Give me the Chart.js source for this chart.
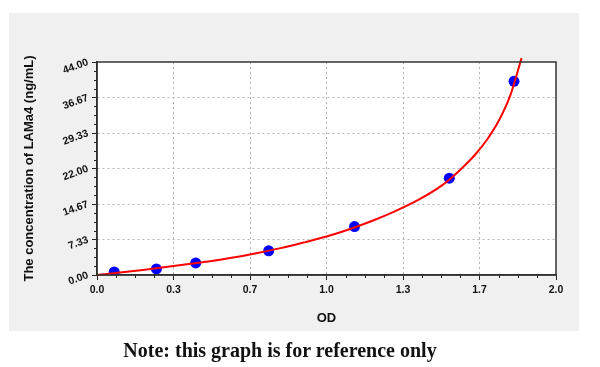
<!DOCTYPE html>
<html>
<head>
<meta charset="utf-8">
<script src="https://cdn.jsdelivr.net/npm/chart.js@4/dist/chart.umd.min.js"></script>
<style>
  body { margin: 0; background: #fff; }
  #wrap { position: relative; width: 600px; height: 367px; }
  #panel { position: absolute; left: 9px; top: 13px; width: 570px; height: 318px; background: #f0f0f0; }
  #chart { position: absolute; left: 0; top: 0; }
  #note { position: absolute; left: 0; top: 339px; width: 560px; text-align: center;
          font-family: 'Liberation Serif', serif; font-weight: bold; font-size: 20px; color: #111; }
</style>
</head>
<body>
<div id="wrap">
  <div id="panel"></div>
  <canvas id="chart" width="600" height="367"></canvas>
  <div id="note">Note: this graph is for reference only</div>
</div>
<script>
'use strict';

// standards
var odValues = [0.075, 0.259, 0.430, 0.748, 1.122, 1.535, 1.817];
var concValues = [0.625, 1.25, 2.5, 5, 10, 20, 40];

// fitted curve at even OD steps
var curveOd = [0, 0.1, 0.2, 0.3, 0.4, 0.5, 0.6, 0.7, 0.8, 0.9, 1.0, 1.1, 1.2, 1.3, 1.4, 1.5, 1.55, 1.6, 1.65, 1.7, 1.75, 1.8, 1.85];
var curveConc = [0, 0.5, 1.05, 1.63, 2.25, 2.9, 3.65, 4.55, 5.55, 6.7, 7.95, 9.45, 11.2, 13.2, 15.5, 18.4, 20.3, 22.5, 25.0, 28.0, 31.8, 37.0, 44.8];

var xTicks = [0, 1 / 3, 2 / 3, 1, 4 / 3, 5 / 3, 2];
var xTickLabels = ['0.0', '0.3', '0.7', '1.0', '1.3', '1.7', '2.0'];
var yTicks = [0, 22 / 3, 44 / 3, 22, 88 / 3, 110 / 3, 44];
var yTickLabels = ['0.00', '7.33', '14.67', '22.00', '29.33', '36.67', '44.00'];

function toPoints (xs, ys) {
  var pts = [];
  for (var i = 0; i < xs.length; i++) {
    pts.push({ x: xs[i], y: ys[i] });
  }
  return pts;
}

function gridColor (count) {
  return function (c) {
    return (c.index === 0 || c.index === count - 1) ? 'rgba(0,0,0,0)' : '#b4b4b4';
  };
}

// white plot area, frame and minor ticks
var framePlugin = {
  id: 'frame',
  beforeDraw: function (chart) {
    var a = chart.chartArea;
    var ctx = chart.ctx;
    ctx.save();
    ctx.fillStyle = '#ffffff';
    ctx.fillRect(a.left, a.top, a.right - a.left, a.bottom - a.top);
    ctx.restore();
  },
  afterDraw: function (chart) {
    var a = chart.chartArea;
    var ctx = chart.ctx;
    var xs = chart.scales.x;
    var ys = chart.scales.y;
    ctx.save();
    ctx.strokeStyle = '#333333';
    ctx.lineWidth = 1.5;
    ctx.strokeRect(a.left, a.top, a.right - a.left, a.bottom - a.top);
    ctx.strokeStyle = '#222222';
    ctx.lineWidth = 1;
    ctx.beginPath();
    for (var i = 0; i < xTicks.length - 1; i++) {
      var step = (xTicks[i + 1] - xTicks[i]) / 4;
      for (var k = 1; k < 4; k++) {
        var px = Math.round(xs.getPixelForValue(xTicks[i] + step * k)) + 0.5;
        ctx.moveTo(px, a.bottom);
        ctx.lineTo(px, a.bottom + 3);
      }
    }
    for (var j = 0; j < yTicks.length - 1; j++) {
      var ystep = (yTicks[j + 1] - yTicks[j]) / 4;
      for (var m = 1; m < 4; m++) {
        var py = Math.round(ys.getPixelForValue(yTicks[j] + ystep * m)) + 0.5;
        ctx.moveTo(a.left, py);
        ctx.lineTo(a.left - 3, py);
      }
    }
    ctx.stroke();
    ctx.restore();
  }
};

var ctx = document.getElementById('chart').getContext('2d');
var chart = new Chart(ctx, {
  type: 'scatter',
  data: {
    datasets: [{
      label: 'curve',
      type: 'line',
      order: 0,
      data: toPoints(curveOd, curveConc),
      borderColor: '#ff0000',
      borderWidth: 2,
      pointRadius: 0,
      fill: false,
      cubicInterpolationMode: 'monotone',
      clip: false
    }, {
      label: 'standards',
      order: 1,
      data: toPoints(odValues, concValues),
      backgroundColor: '#0000ff',
      borderColor: '#0000ff',
      pointRadius: 5.5,
      pointBorderWidth: 0
    }]
  },
  options: {
    responsive: false,
    animation: false,
    layout: { padding: { left: 22, top: 62, right: 44, bottom: 41 } },
    plugins: {
      legend: { display: false },
      tooltip: { enabled: false }
    },
    scales: {
      x: {
        type: 'linear',
        min: 0,
        max: 2,
        afterBuildTicks: function (scale) {
          scale.ticks = xTicks.map(function (v) { return { value: v }; });
        },
        afterFit: function (scale) { scale.height = 51; },
        ticks: {
          padding: 4,
          color: '#111',
          font: { family: 'Arial, Liberation Sans', weight: 'bold', size: 10.5 },
          maxRotation: 0,
          callback: function (v, i) { return xTickLabels[i]; }
        },
        grid: {
          color: gridColor(xTicks.length),
          tickColor: '#222',
          tickLength: 5
        },
        border: { color: '#222', width: 1.5, dash: [2, 3] },
        title: {
          display: true,
          text: 'OD',
          color: '#111',
          padding: 0,
          font: { family: 'Arial, Liberation Sans', weight: 'bold', size: 13 }
        }
      },
      y: {
        type: 'linear',
        min: 0,
        max: 44,
        afterBuildTicks: function (scale) {
          scale.ticks = yTicks.map(function (v) { return { value: v }; });
        },
        afterFit: function (scale) { scale.width = 75; },
        ticks: {
          padding: 4,
          color: '#111',
          minRotation: 20,
          maxRotation: 20,
          font: { family: 'Arial, Liberation Sans', weight: 'bold', size: 10.5 },
          callback: function (v, i) { return yTickLabels[i]; }
        },
        grid: {
          color: gridColor(yTicks.length),
          tickColor: '#222',
          tickLength: 5
        },
        border: { color: '#222', width: 1.5, dash: [2, 3] },
        title: {
          display: true,
          text: 'The concentration of LAMa4 (ng/mL)',
          color: '#111',
          padding: 0,
          font: { family: 'Arial, Liberation Sans', weight: 'bold', size: 13 }
        }
      }
    }
  },
  plugins: [framePlugin]
});
</script>
</body>
</html>
